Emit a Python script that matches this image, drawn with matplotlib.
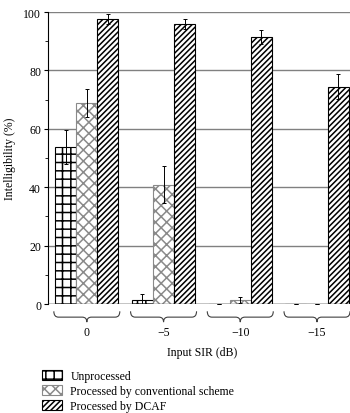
import matplotlib.pyplot as plt
import numpy as np
from matplotlib.path import Path
from matplotlib.patches import PathPatch
import matplotlib.transforms as mtransforms

plt.rcParams['font.family'] = ['Liberation Serif', 'DejaVu Serif']
plt.rcParams['hatch.linewidth'] = 1.1

# datos
grupos = ['0', '\u22125', '\u221210', '\u221215']
sin_proc = [53.9, 1.5, 0.0, 0.0]
sin_proc_err = [5.8, 2.0, 0.0, 0.0]
convencional = [68.7, 40.8, 1.5, 0.0]
convencional_err = [4.8, 6.3, 1.0, 0.0]
dcaf = [97.6, 96.0, 91.6, 74.4]
dcaf_err = [1.8, 1.7, 2.4, 4.2]
etiquetas = ['Unprocessed', 'Processed by conventional scheme', 'Processed by DCAF']

fig = plt.figure(figsize=(3.5, 4.14), dpi=100)
ax = fig.add_axes([48/350, 1-305/414, 1-48/350, 292/414])

x = np.arange(len(grupos))
w = 0.275
ek = dict(ecolor='black', elinewidth=0.7, capsize=1.5, capthick=0.7)

b1 = ax.bar(x - w, sin_proc, w, yerr=sin_proc_err, color='white', edgecolor='black',
            hatch='++', linewidth=0.8, error_kw=ek, zorder=3)
b2 = ax.bar(x, convencional, w, yerr=convencional_err, color='white', edgecolor='#8a8a8a',
            hatch='xxx', linewidth=0.8, error_kw=ek, zorder=3)
b3 = ax.bar(x + w, dcaf, w, yerr=dcaf_err, color='white', edgecolor='black',
            hatch='//////', linewidth=0.8, error_kw=ek, zorder=3)

ax.set_xlim(-0.506, 3.43)
ax.set_ylim(0, 100)
ax.set_yticks([0, 20, 40, 60, 80, 100])
ax.set_yticks([10, 30, 50, 70, 90], minor=True)
ax.tick_params(axis='y', which='major', length=3, width=0.8, labelsize=8.5, pad=2)
ax.tick_params(axis='y', which='minor', length=2, width=0.6)
ax.set_xticks([])
ax.grid(True, axis='y', color='#808080', linewidth=1.0, zorder=0)
for s in ['top', 'right', 'bottom']:
    ax.spines[s].set_visible(False)
ax.spines['left'].set_linewidth(0.8)
ax.axhline(0, color='#404040', linewidth=1.0, zorder=4)
ax.set_ylabel('Intelligibility (%)', fontsize=8.5, labelpad=5)

# llaves bajo cada grupo
trans = mtransforms.blended_transform_factory(ax.transData, ax.transAxes)
for i in range(len(grupos)):
    a = i - 0.43
    b = i + 0.43
    c = i
    y0 = -0.025
    y1 = -0.045
    y2 = -0.062
    verts = [(a, y0), (a, y1), (a + 0.06, y1), (c - 0.06, y1), (c, y1), (c, y2),
             (c, y1), (c + 0.06, y1), (b - 0.06, y1), (b, y1), (b, y0)]
    codes = [Path.MOVETO, Path.CURVE3, Path.CURVE3, Path.LINETO, Path.CURVE3, Path.CURVE3,
             Path.CURVE3, Path.CURVE3, Path.LINETO, Path.CURVE3, Path.CURVE3]
    ax.add_patch(PathPatch(Path(verts, codes), transform=trans, fill=False,
                           edgecolor='#404040', linewidth=0.8, clip_on=False))
    ax.text(i, -0.095, grupos[i], transform=trans, ha='center', va='center', fontsize=8.5)

ax.text(1.5, -0.163, 'Input SIR (dB)', transform=trans, ha='center', va='center', fontsize=8.5)

fig.legend([b1, b2, b3], etiquetas, loc='upper left', bbox_to_anchor=(42/350, 1-371/414),
           frameon=False, fontsize=8.5, handlelength=1.7, handleheight=0.9,
           labelspacing=0.27, handletextpad=0.7, borderaxespad=0, borderpad=0)

plt.savefig('out.png', dpi=100)
